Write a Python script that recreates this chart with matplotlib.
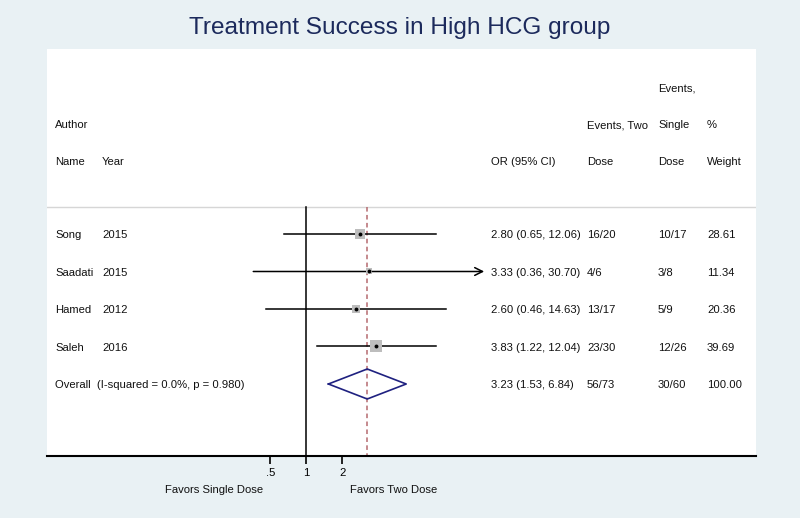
import numpy as np
import matplotlib.pyplot as plt
from matplotlib.transforms import blended_transform_factory

plt.rcParams['font.family'] = ['Liberation Sans', 'DejaVu Sans']

# study data
authors = ['Song', 'Saadati', 'Hamed', 'Saleh']
years = ['2015', '2015', '2012', '2016']
orr = [2.80, 3.33, 2.60, 3.83]
lo = [0.65, 0.36, 0.46, 1.22]
hi = [12.06, 30.70, 14.63, 12.04]
ev_two = ['16/20', '4/6', '13/17', '23/30']
ev_single = ['10/17', '3/8', '5/9', '12/26']
weights = [28.61, 11.34, 20.36, 39.69]

# pooled estimate
overall_label = 'Overall  (I-squared = 0.0%, p = 0.980)'
overall_or, overall_lo, overall_hi = 3.23, 1.53, 6.84
overall_two, overall_single, overall_w = '56/73', '30/60', '100.00'

xticks = [0.5, 1, 2]
xtick_labels = ['.5', '1', '2']

bg = '#e9f1f4'
navy = '#1c2a5c'
W, H = 800, 518
fig = plt.figure(figsize=(8, 5.18), dpi=100, facecolor=bg)
ax = fig.add_axes([47 / W, (H - 456) / H, (756 - 47) / W, (456 - 49) / H])
ax.set_facecolor('white')
ax.set_xscale('log', base=2)
ax.set_xlim(2 ** -7.203, 2 ** 12.49)
ax.set_ylim(5.92, -4.933)   # row units, row 0 = first study

for s in ['top', 'left', 'right']:
    ax.spines[s].set_visible(False)
ax.spines['bottom'].set_linewidth(1.5)
ax.set_yticks([])
ax.set_xticks(xticks)
ax.set_xticklabels(xtick_labels, fontsize=8.1)
ax.minorticks_off()
ax.tick_params(axis='x', length=6, width=1.2, pad=3)

# separator under header
ax.axhline(-0.72, color='#d6d6d6', lw=1)
# null line and overall line
ax.plot([1, 1], [-0.72, 5.92], color='black', lw=1.1)
ax.plot([overall_or, overall_or], [-0.72, 5.92], color='#b56a6f', lw=1.1,
        ls=(0, (3, 2.2)))

for i in range(len(authors)):
    if i == 1:
        ax.annotate('', xy=(hi[i], i), xytext=(lo[i], i),
                    arrowprops=dict(arrowstyle='->', lw=1.1, color='black',
                                    mutation_scale=14, shrinkA=0, shrinkB=0))
    else:
        ax.plot([lo[i], hi[i]], [i, i], color='black', lw=1.1)
    ax.plot(orr[i], i, marker='s', color='#bdbdbd', ms=8.5 * np.sqrt(weights[i] / 39.69),
            mew=0, zorder=3)
    ax.plot(orr[i], i, marker='o', color='black', ms=2.8, mew=0, zorder=4)

# diamond
n = len(authors)
dx = [overall_lo, overall_or, overall_hi, overall_or, overall_lo]
dy = [n, n - 0.4, n, n + 0.4, n]
ax.plot(dx, dy, color='#1f2180', lw=1.2)

tr = blended_transform_factory(fig.transFigure, ax.transData)
off = 0.11
fs = 8.1


def txt(xp, row, s):
    ax.text(xp / W, row + off, s, transform=tr, fontsize=fs, va='baseline',
            ha='left', color='#111111')


# header
txt(658, -3.92, 'Events,')
txt(55, -2.933, 'Author')
txt(587, -2.933, 'Events, Two')
txt(658, -2.933, 'Single')
txt(707, -2.933, '%')
txt(55, -1.947, 'Name')
txt(102, -1.947, 'Year')
txt(491, -1.947, 'OR (95% CI)')
txt(587, -1.947, 'Dose')
txt(658, -1.947, 'Dose')
txt(707, -1.947, 'Weight')

for i in range(n):
    txt(55, i, authors[i])
    txt(102, i, years[i])
    txt(491, i, '%.2f (%.2f, %.2f)' % (orr[i], lo[i], hi[i]))
    txt(587, i, ev_two[i])
    txt(658, i, ev_single[i])
    txt(707, i, '%.2f' % weights[i])

txt(55, n, overall_label)
txt(491, n, '%.2f (%.2f, %.2f)' % (overall_or, overall_lo, overall_hi))
txt(587, n, overall_two)
txt(658, n, overall_single)
txt(707, n, overall_w)

fig.text(214 / W, 1 - 493 / H, 'Favors Single Dose', ha='center', va='baseline',
         fontsize=fs, color='#111111')
fig.text(394 / W, 1 - 493 / H, 'Favors Two Dose', ha='center', va='baseline',
         fontsize=fs, color='#111111')

fig.text(400 / W, 1 - 34 / H, 'Treatment Success in High HCG group', ha='center',
         va='baseline', fontsize=17.6, color=navy)

fig.savefig('out.png', dpi=100, facecolor=bg)
